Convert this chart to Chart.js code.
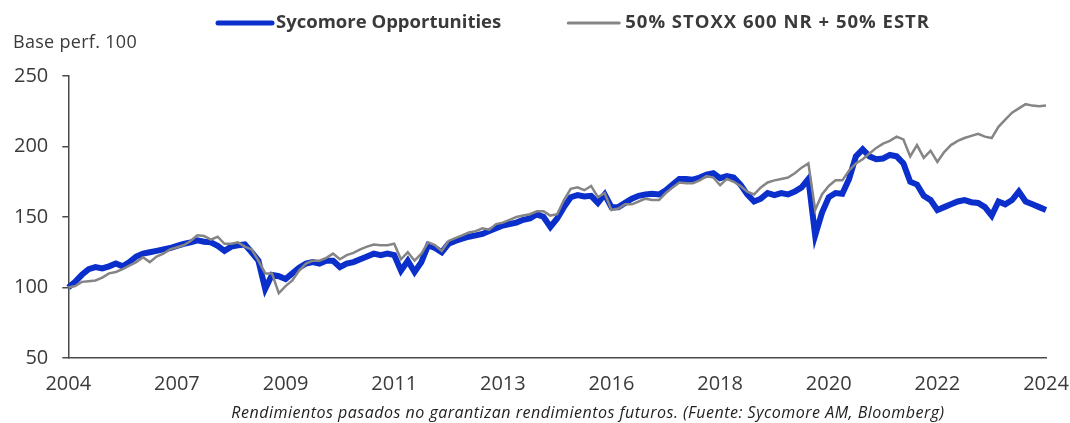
<!DOCTYPE html>
<html>
<head>
<meta charset="utf-8">
<script src="https://cdn.jsdelivr.net/npm/chart.js@4/dist/chart.umd.min.js"></script>
<style>
  html, body { margin: 0; padding: 0; background: #fff; }
  #wrap { width: 1070px; height: 423px; position: relative; }
</style>
</head>
<body>
<div id="wrap"><canvas id="perfChart"></canvas></div>
<script>
// Data (base 100, ~145 points from 2004 to 2024)
var yearLabels = ['2004', '2007', '2009', '2011', '2013', '2016', '2018', '2020', '2022', '2024'];
var seriesNames = ['Sycomore Opportunities', '50% STOXX 600 NR + 50% ESTR'];

var sycomore = [
  100, 104, 109, 113, 114.5, 113.5, 115, 117, 115, 118,
  122, 124, 125, 126, 127, 128, 129.5, 131, 132, 133.5,
  132.5, 132, 129.5, 126, 129, 130, 130.5, 125, 119, 99,
  109, 108, 106, 110, 114, 117, 118, 117, 119, 119,
  114.5, 117, 118, 120, 122, 124, 123, 124, 123, 112,
  119, 111, 118, 130, 128, 125, 131, 133, 134.6, 136,
  137, 138, 140, 142, 144, 145, 146, 148, 149, 152,
  150, 143, 149, 157, 164, 165.5, 164.5, 165, 160, 166,
  157, 157, 160, 163, 165, 166, 166.5, 166, 169, 173,
  177, 177, 176.5, 178, 180, 181, 177.5, 179, 178, 173,
  166, 161, 163, 167, 165.5, 167, 166, 168, 171, 177,
  137, 153, 164, 167, 166.5, 177, 193, 198, 193, 191,
  191.5, 194, 193, 188, 175, 173, 165, 162, 155, 157,
  159, 161, 162, 160.5, 160, 157, 151, 161, 159, 162,
  168, 161, 159, 157, 155
];

var benchmark = [
  100, 101, 104, 104.5, 105, 107, 110, 111, 113, 115.5,
  118, 121.5, 118, 122, 124, 127, 128.5, 130, 133, 137,
  136.5, 134, 136, 131, 131, 132, 129, 127, 119, 110,
  110, 96, 101, 105, 112, 117, 119, 119, 121, 124,
  120, 123, 124.5, 127, 129, 130.5, 130, 130, 131, 120,
  125, 119, 124, 132, 130, 126, 133, 135, 137, 139,
  140, 142, 141, 145, 146, 148, 150, 151, 152, 154,
  154, 151, 152, 162, 170, 171, 169, 172, 164, 167,
  155, 156, 159, 159, 161, 163, 162, 162, 167, 171,
  174.5, 174, 174, 176, 179, 178, 172.5, 177, 175, 172,
  168, 166, 171, 174.5, 176, 177, 178, 181, 185, 188,
  155, 166, 172, 176, 176, 183, 188, 191, 195, 199,
  202, 204, 207, 205, 193, 201, 192, 197, 189, 196,
  201, 204, 206, 207.5, 209, 207, 206, 214, 219, 224,
  227, 230, 229, 228.5, 229
];

var yTicks = [50, 100, 150, 200, 250];

var stepPerLabel = (sycomore.length - 1) / (yearLabels.length - 1);
var categories = sycomore.map(function (v, i) {
  return i % stepPerLabel === 0 ? yearLabels[i / stepPerLabel] : '';
});

var FONT = '"Open Sans", "Liberation Sans", sans-serif';
var TEXT = '#3a3a3a';
var BLUE = '#0a2fcb';
var GREY = '#858585';

// legend, axis caption and source note
var extrasPlugin = {
  id: 'extras',
  afterDraw: function (chart) {
    var ctx = chart.ctx;
    ctx.save();
    ctx.textBaseline = 'middle';
    ctx.fillStyle = TEXT;

    // legend
    ctx.font = 'bold 18.5px ' + FONT;
    var x = 218, y = 23;
    var items = [
      { name: seriesNames[0], color: BLUE, lw: 5, len: 54, gap: 4, ls: '0px' },
      { name: seriesNames[1], color: GREY, lw: 3, len: 51, gap: 6, ls: '1px' }
    ];
    items.forEach(function (it) {
      ctx.strokeStyle = it.color;
      ctx.lineWidth = it.lw;
      ctx.lineCap = 'round';
      ctx.beginPath();
      ctx.moveTo(x, y);
      ctx.lineTo(x + it.len, y);
      ctx.stroke();
      x += it.len + it.gap;
      ctx.fillStyle = TEXT;
      ctx.textAlign = 'left';
      ctx.letterSpacing = it.ls;
      ctx.fillText(it.name, x, y);
      x += ctx.measureText(it.name).width + 67;
    });

    // axis caption
    ctx.font = '18px ' + FONT;
    ctx.letterSpacing = '0.3px';
    ctx.fillText('Base perf. 100', 13, 43);

    // source note
    ctx.font = 'italic 16px ' + FONT;
    ctx.letterSpacing = '0.5px';
    ctx.textAlign = 'center';
    ctx.fillStyle = '#222';
    ctx.fillText('Rendimientos pasados no garantizan rendimientos futuros. (Fuente: Sycomore AM, Bloomberg)', 588, 413);
    ctx.restore();
  }
};

var ctx = document.getElementById('perfChart').getContext('2d');
var perfChart = new Chart(ctx, {
  type: 'line',
  data: {
    labels: categories,
    datasets: [
      {
        label: seriesNames[0],
        data: sycomore,
        borderColor: BLUE,
        backgroundColor: BLUE,
        borderWidth: 6,
        pointRadius: 0,
        tension: 0,
        order: 1
      },
      {
        label: seriesNames[1],
        data: benchmark,
        borderColor: GREY,
        backgroundColor: GREY,
        borderWidth: 2.5,
        pointRadius: 0,
        tension: 0,
        order: 0
      }
    ]
  },
  options: {
    responsive: true,
    maintainAspectRatio: false,
    animation: false,
    layout: { padding: { left: 0, right: 0, top: 76, bottom: 13 } },
    plugins: {
      legend: { display: false },
      tooltip: { enabled: false }
    },
    scales: {
      x: {
        grid: { display: false, drawTicks: false },
        border: { display: true, color: '#4a4a4a', width: 1.5 },
        afterFit: function (scale) {
          scale.paddingRight = 24;
        },
        ticks: {
          autoSkip: false,
          maxRotation: 0,
          padding: 14,
          color: TEXT,
          font: { family: FONT, size: 20 }
        }
      },
      y: {
        min: 50,
        max: 250,
        afterBuildTicks: function (axis) {
          axis.ticks = yTicks.map(function (v) { return { value: v }; });
        },
        grid: { drawOnChartArea: false, drawTicks: true, tickLength: 6, color: '#4a4a4a', lineWidth: 1.5 },
        border: { display: true, color: '#4a4a4a', width: 1.5 },
        ticks: {
          padding: 14,
          color: TEXT,
          font: { family: FONT, size: 20 }
        }
      }
    }
  },
  plugins: [extrasPlugin]
});
</script>
</body>
</html>
